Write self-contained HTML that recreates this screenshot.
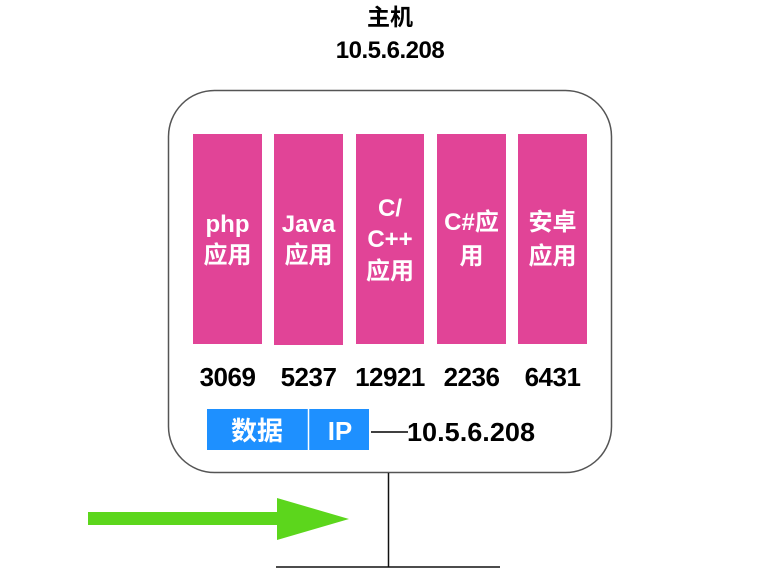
<!DOCTYPE html>
<html><head><meta charset="utf-8"><style>
html,body{margin:0;padding:0;background:#fff;width:770px;height:583px;overflow:hidden}
svg text{font-family:"Liberation Sans","Noto Sans CJK SC",sans-serif;font-weight:bold}
</style></head><body>
<svg width="770" height="583" viewBox="0 0 770 583" xmlns="http://www.w3.org/2000/svg">
<text x="390" y="25" font-size="23" text-anchor="middle" fill="#000">主机</text>
<text x="390" y="58" font-size="24" text-anchor="middle" fill="#000" letter-spacing="-0.5">10.5.6.208</text>
<rect x="168.5" y="90.5" width="443" height="382" rx="46" ry="46" fill="none" stroke="#555" stroke-width="1.5"/>
<g fill="#e14497">
<rect x="193" y="134" width="69" height="210"/>
<rect x="274" y="134" width="69" height="211"/>
<rect x="356" y="134" width="68" height="210"/>
<rect x="437" y="134" width="69" height="210"/>
<rect x="518" y="134" width="69" height="210"/>
</g>
<g fill="#fff" font-size="24" text-anchor="middle">
<text x="227.5" y="232">php</text><text x="227.5" y="263">应用</text>
<text x="308.5" y="232">Java</text><text x="308.5" y="263">应用</text>
<text x="390" y="216">C/</text><text x="390" y="247">C++</text><text x="390" y="279">应用</text>
<text x="471.5" y="230">C#应</text><text x="471.5" y="264">用</text>
<text x="552.5" y="230">安卓</text><text x="552.5" y="264">应用</text>
</g>
<g fill="#000" font-size="26" text-anchor="middle" letter-spacing="-0.5">
<text x="227.5" y="386">3069</text>
<text x="308.5" y="386">5237</text>
<text x="390" y="386">12921</text>
<text x="471.5" y="386">2236</text>
<text x="552.5" y="386">6431</text>
</g>
<rect x="207" y="409" width="162" height="41" fill="#1e90ff"/>
<line x1="308.5" y1="409" x2="308.5" y2="450" stroke="#fff" stroke-width="1.5"/>
<text x="257" y="440" font-size="26" fill="#fff" text-anchor="middle">数据</text>
<text x="340" y="440" font-size="26" fill="#fff" text-anchor="middle">IP</text>
<line x1="371" y1="432" x2="408" y2="432" stroke="#000" stroke-width="1.5"/>
<text x="407" y="441" font-size="26" fill="#000" textLength="128" lengthAdjust="spacingAndGlyphs">10.5.6.208</text>
<line x1="388.5" y1="473" x2="388.5" y2="567" stroke="#111" stroke-width="1.5"/>
<line x1="276" y1="567" x2="500" y2="567" stroke="#111" stroke-width="1.5"/>
<rect x="88" y="512" width="192" height="13" fill="#5cd61c"/>
<polygon points="277,498 349,519 277,540" fill="#5cd61c"/>
</svg>
</body></html>
